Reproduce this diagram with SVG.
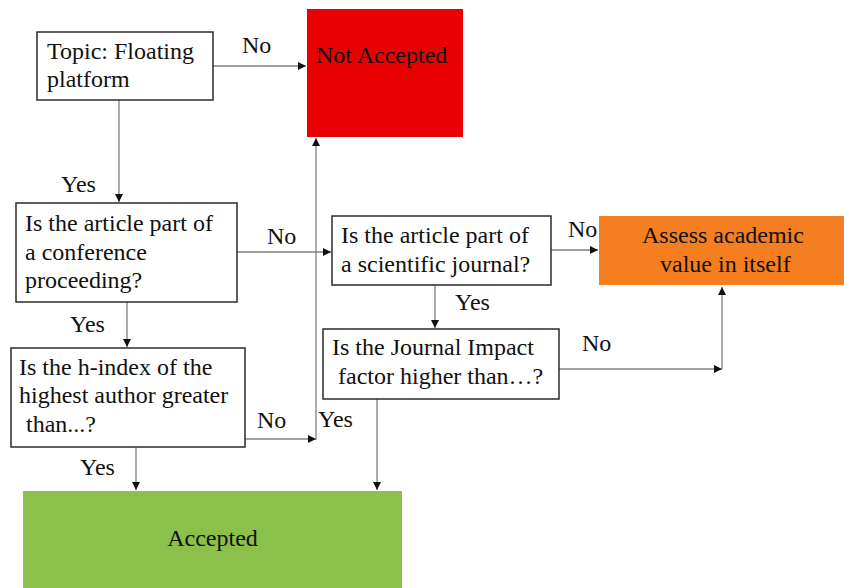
<svg xmlns="http://www.w3.org/2000/svg" width="844" height="588" viewBox="0 0 844 588">
<style>
text{font-family:'Liberation Serif','Times New Roman',Times,'DejaVu Serif',serif;font-size:24px;fill:#111}
.box{fill:#fff;stroke:#2b2b2b;stroke-width:1.5}
.c{fill:none;stroke:#808080;stroke-width:1.3}
</style>
<defs>
<marker id="ah" markerUnits="userSpaceOnUse" markerWidth="9" markerHeight="8" refX="8" refY="4" orient="auto">
<path d="M0,0 L8,4 L0,8 Z" fill="#111"/>
</marker>
</defs>
<rect width="844" height="588" fill="#fff"/>
<g id="connectors">
<line class="c" x1="213" y1="66" x2="306" y2="66" marker-end="url(#ah)"/>
<line class="c" x1="119" y1="100" x2="119" y2="202" marker-end="url(#ah)"/>
<line class="c" x1="237" y1="252" x2="331" y2="252" marker-end="url(#ah)"/>
<line class="c" x1="127" y1="302" x2="127" y2="347" marker-end="url(#ah)"/>
<line class="c" x1="245" y1="439" x2="316" y2="439" marker-end="url(#ah)"/>
<line class="c" x1="316" y1="440" x2="316" y2="138" marker-end="url(#ah)"/>
<line class="c" x1="136" y1="447" x2="136" y2="490" marker-end="url(#ah)"/>
<line class="c" x1="551" y1="250" x2="598" y2="250" marker-end="url(#ah)"/>
<line class="c" x1="435" y1="285" x2="435" y2="328" marker-end="url(#ah)"/>
<line class="c" x1="559" y1="369" x2="722" y2="369" marker-end="url(#ah)"/>
<line class="c" x1="722" y1="369" x2="722" y2="287" marker-end="url(#ah)"/>
<line class="c" x1="377" y1="399" x2="377" y2="490" marker-end="url(#ah)"/>
<text x="242" y="53" font-family="Liberation Serif, serif">No</text>
<text x="61" y="192" font-family="Liberation Serif, serif">Yes</text>
<text x="267" y="244" font-family="Liberation Serif, serif">No</text>
<text x="70" y="332" font-family="Liberation Serif, serif">Yes</text>
<text x="257" y="428" font-family="Liberation Serif, serif">No</text>
<text x="318" y="427" font-family="Liberation Serif, serif">Yes</text>
<text x="80" y="475" font-family="Liberation Serif, serif">Yes</text>
<text x="568" y="237" font-family="Liberation Serif, serif">No</text>
<text x="455" y="310" font-family="Liberation Serif, serif">Yes</text>
<text x="582" y="351" font-family="Liberation Serif, serif">No</text>
</g>
<g id="topic">
<rect class="box" x="37" y="32" width="176" height="68"/>
<text x="47" y="59">Topic: Floating</text>
<text x="47" y="87">platform</text>
</g>
<g id="not-accepted">
<rect x="307" y="9" width="156" height="128" fill="#E90000"/>
<text x="316" y="63">Not Accepted</text>
</g>
<g id="conference">
<rect class="box" x="16" y="203" width="221" height="99"/>
<text x="25" y="231">Is the article part of</text>
<text x="25" y="260">a conference</text>
<text x="25" y="288">proceeding?</text>
</g>
<g id="hindex">
<rect class="box" x="11" y="348" width="234" height="99"/>
<text x="19" y="375">Is the h-index of the</text>
<text x="19" y="403">highest author greater</text>
<text x="26" y="432">than...?</text>
</g>
<g id="journal">
<rect class="box" x="332" y="216" width="219" height="69"/>
<text x="341" y="243">Is the article part of</text>
<text x="341" y="272">a scientific journal?</text>
</g>
<g id="assess">
<rect x="599" y="216" width="245" height="69" fill="#F47E20"/>
<text x="642" y="243">Assess academic</text>
<text x="660" y="272">value in itself</text>
</g>
<g id="impact">
<rect class="box" x="323" y="329" width="236" height="70"/>
<text x="332" y="355">Is the Journal Impact</text>
<text x="338" y="384">factor higher than…?</text>
</g>
<g id="accepted">
<rect x="23" y="491" width="379" height="97" fill="#8BC04A"/>
<text x="212.5" y="546" text-anchor="middle">Accepted</text>
</g>
</svg>
